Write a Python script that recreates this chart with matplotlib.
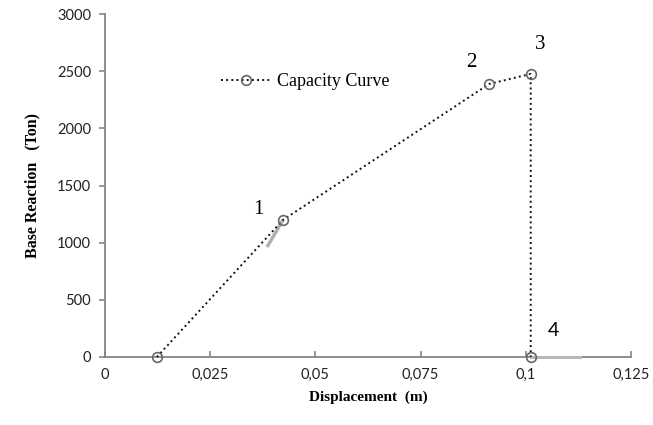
import matplotlib
matplotlib.use("Agg")
import matplotlib.pyplot as plt

# capacity curve points
disp = [0.0123, 0.0423, 0.0913, 0.1012, 0.1012]
force = [0, 1199, 2388, 2476, 0]
point_labels = ["1", "2", "3", "4"]
label_pos = [(0.0365, 1290), (0.0870, 2580), (0.1035, 2730), (0.1065, 230)]
label_fonts = ["Liberation Serif", "Liberation Serif", "Liberation Serif", "Lato"]

# grey artifacts of the original drawing
seg1_x = [0.0385, 0.0423]
seg1_y = [962, 1199]
seg2_x = [0.1012, 0.1130]
seg2_y = [0, 0]

xticks = [0, 0.025, 0.05, 0.075, 0.1, 0.125]
xticklabels = ["0", "0,025", "0,05", "0,075", "0,1", "0,125"]
yticks = [0, 500, 1000, 1500, 2000, 2500, 3000]

fig = plt.figure(figsize=(6.53, 4.25), dpi=100)
ax = fig.add_axes([0.161, 0.16, 0.805, 0.807])

grey = "#868686"
ax.plot(seg1_x, seg1_y, color="#b0b0b0", lw=2.5, solid_capstyle="butt", zorder=2)
ax.plot(seg2_x, seg2_y, color="#b8b8b8", lw=2.2, zorder=3, clip_on=False)
ax.plot(disp, force, linestyle=":", color="#111111", lw=1.4,
        marker="o", markersize=7, markerfacecolor="none",
        markeredgecolor="#666666", markeredgewidth=1.2,
        label="Capacity Curve", zorder=4, clip_on=False)

for lab, (lx, ly), fnt in zip(point_labels, label_pos, label_fonts):
    ax.text(lx, ly, lab, fontsize=15 if fnt != "Lato" else 14, family=fnt,
            ha="center", va="center", color="black")

ax.set_xlim(0, 0.125)
ax.set_ylim(0, 3000)
ax.set_xticks(xticks)
ax.set_xticklabels(xticklabels)
ax.set_yticks(yticks)

for s in ["top", "right"]:
    ax.spines[s].set_visible(False)
for s in ["left", "bottom"]:
    ax.spines[s].set_color(grey)
    ax.spines[s].set_linewidth(1.3)

ax.tick_params(axis="x", direction="in", length=4, color=grey, width=1.2,
               labelsize=10.5, pad=8, labelcolor="#222222")
ax.tick_params(axis="y", direction="out", length=4, color=grey, width=1.2,
               labelsize=10.5, pad=6, labelcolor="#222222")
for t in ax.get_xticklabels() + ax.get_yticklabels():
    t.set_family("Lato")

ax.set_xlabel("Displacement  (m)", family="Liberation Serif", fontweight="bold",
              fontsize=11, labelpad=6)
ax.set_ylabel("Base Reaction   (Ton)", family="Liberation Serif", fontweight="bold",
              fontsize=11.5, labelpad=12)

leg = ax.legend(loc="center left", bbox_to_anchor=(0.19, 0.803), frameon=False,
                handlelength=2.7, handletextpad=0.4,
                prop={"family": "Liberation Serif", "size": 13})

fig.savefig("out.png", dpi=100)
